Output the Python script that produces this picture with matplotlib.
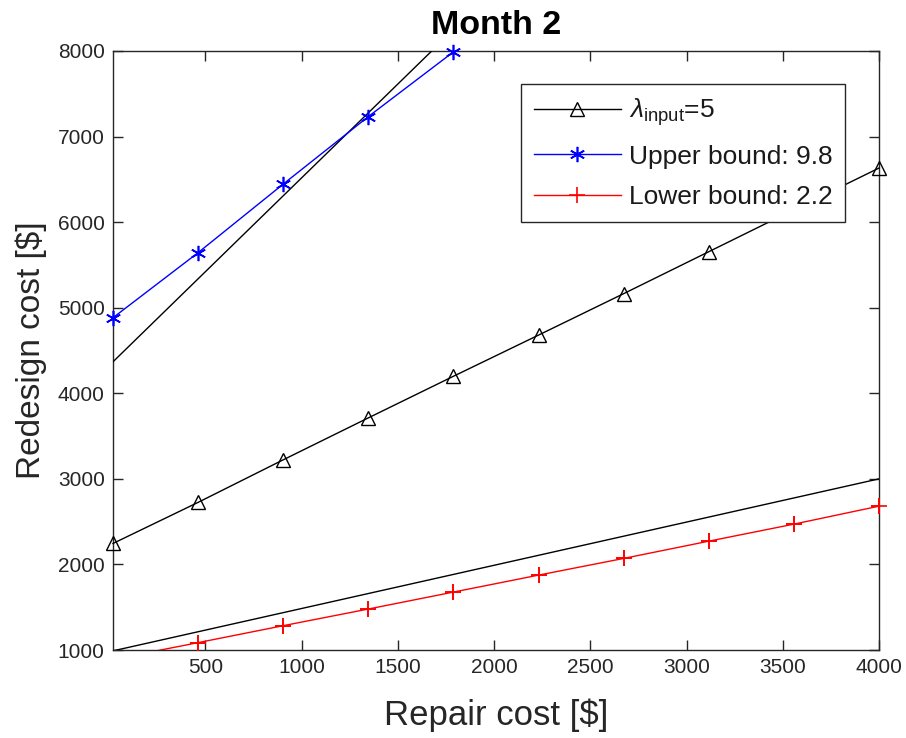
import numpy as np
import matplotlib; matplotlib.use('Agg')
import matplotlib.pyplot as plt

plt.rcParams['font.family'] = ['Liberation Sans', 'DejaVu Sans']
plt.rcParams['mathtext.fontset'] = 'custom'
plt.rcParams['mathtext.rm'] = 'Liberation Sans'
plt.rcParams['mathtext.it'] = 'Liberation Sans:italic'

# --- Donnees (mois 2) ---
repair = [20, 462, 904, 1347, 1789, 2231, 2673, 3116, 3558, 4000]
redesign_lambda = [2245, 2725, 3222, 3713, 4199, 4680, 5164, 5655, 6145, 6632]
redesign_upper = [4883, 5643, 6444, 7234, 7990]
redesign_lower = [890, 1086, 1284, 1479, 1677, 1875, 2070, 2272, 2471, 2681]

# droites de reference (noires, hors legende)
ref_hi_x = [20, 1676]
ref_hi_y = [4368, 8000]
ref_lo_x = [20, 4000]
ref_lo_y = [990, 3000]

xticks = [500, 1000, 1500, 2000, 2500, 3000, 3500, 4000]
yticks = [1000, 2000, 3000, 4000, 5000, 6000, 7000, 8000]
YMIN, YMAX = 1000, 8000

grey = '#262626'

fig = plt.figure(figsize=(9.06, 7.38), dpi=100)
ax = fig.add_axes([113/906, 1 - 650/738, 766/906, 599/738])

ax.plot(ref_hi_x, ref_hi_y, color='black', lw=1.0)
ax.plot(ref_lo_x, ref_lo_y, color='black', lw=1.0)

# marqueurs non coupes au bord du cadre (comme matlab)
ax.plot(repair, redesign_lambda, color='black', lw=1.0, marker='^', ms=10,
        mfc='none', mec='black', mew=1.0, clip_on=False,
        label=r'$\lambda_{\mathrm{input}}$=5')
ax.plot(repair[:len(redesign_upper)], redesign_upper, color='#0000ff', lw=1.0,
        marker=(6, 2, 0), ms=11, mew=1.2, clip_on=False, label='Upper bound: 9.8')

# borne basse: la ligne est coupee, les marqueurs visibles ne le sont pas
ax.plot(repair, redesign_lower, color='#ff0000', lw=1.0, marker='+', ms=12,
        mew=1.2, label='Lower bound: 2.2')
lx = np.array(repair); ly = np.array(redesign_lower)
vis = ly >= YMIN
ax.plot(lx[vis], ly[vis], ls='none', color='#ff0000', marker='+', ms=12,
        mew=1.2, clip_on=False)

ax.set_xlim(20, 4000)
ax.set_ylim(YMIN, YMAX)
ax.set_xticks(xticks)
ax.set_yticks(yticks)
ax.tick_params(direction='in', length=7, width=1.0, top=True, right=True,
               labelsize=15, colors=grey, labelcolor=grey, pad=6)
for s in ax.spines.values():
    s.set_color(grey)
    s.set_linewidth(1.0)
    s.set_zorder(1)

ax.set_xlabel('Repair cost [$]', fontsize=25, color=grey, labelpad=15)
ax.set_ylabel('Redesign cost [$]', fontsize=24, color=grey, labelpad=8)
ax.set_title('Month 2', fontsize=24.5, fontweight='bold', color='black', pad=12)

leg = ax.legend(loc='upper right', bbox_to_anchor=(0.9556, 0.9449),
                borderaxespad=0, fontsize=19, fancybox=False, framealpha=1,
                edgecolor=grey, handlelength=3.3, handletextpad=0.3,
                labelspacing=0.62, borderpad=0.48)
leg.get_frame().set_linewidth(1.0)
leg.set_zorder(5)
for t in leg.get_texts():
    t.set_color('#1a1a1a')

plt.savefig('out.png', dpi=100)
